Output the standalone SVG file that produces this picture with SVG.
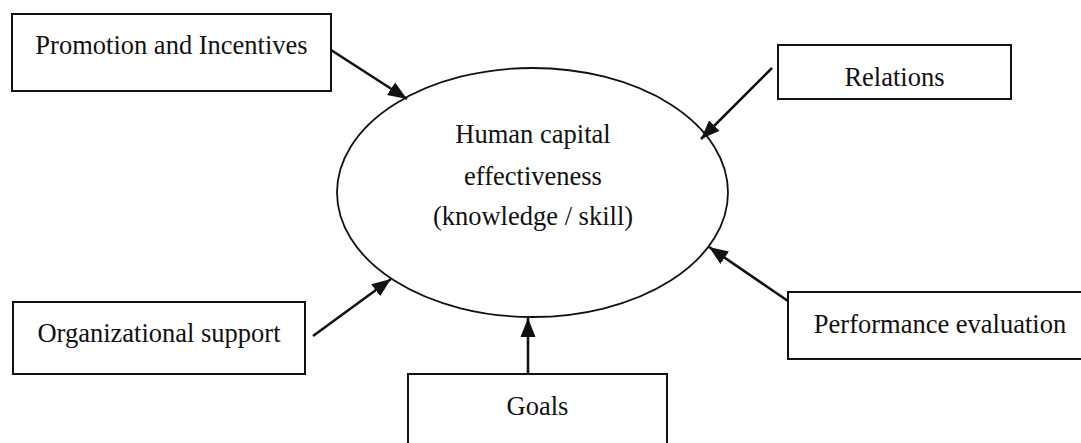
<svg xmlns="http://www.w3.org/2000/svg" width="1081" height="443" viewBox="0 0 1081 443">
  <style>
    .box { fill: #ffffff; stroke: #111111; stroke-width: 2; }
    .hub { fill: #ffffff; stroke: #111111; stroke-width: 1.8; }
    .label { font-family: "Liberation Serif", "Times New Roman", serif; font-size: 26.5px; fill: #111111; text-anchor: middle; }
    .link { stroke: #111111; stroke-width: 2.6; fill: none; marker-end: url(#head); }
  </style>
  <defs>
    <marker id="head" markerUnits="userSpaceOnUse" markerWidth="20" markerHeight="16" refX="19" refY="8" orient="auto">
      <path d="M0,0.5 L19,8 L0,15.5 Z" fill="#111111"/>
    </marker>
  </defs>
  <rect width="1081" height="443" fill="#ffffff"/>

  <g id="node-hub">
    <ellipse class="hub" cx="532.5" cy="192.5" rx="195.5" ry="124.5"/>
    <text class="label" x="533" y="143">Human capital</text>
    <text class="label" x="533" y="185">effectiveness</text>
    <text class="label" x="533" y="225">(knowledge / skill)</text>
  </g>

  <g id="node-promotion">
    <rect class="box" x="12" y="14" width="319" height="77"/>
    <text class="label" x="171.5" y="54">Promotion and Incentives</text>
  </g>

  <g id="node-relations">
    <rect class="box" x="778" y="45" width="233" height="54"/>
    <text class="label" x="894.5" y="86">Relations</text>
  </g>

  <g id="node-support">
    <rect class="box" x="13" y="302" width="292" height="72"/>
    <text class="label" x="159" y="342">Organizational support</text>
  </g>

  <g id="node-goals">
    <rect class="box" x="408" y="374" width="259" height="80"/>
    <text class="label" x="537.5" y="415">Goals</text>
  </g>

  <g id="node-performance">
    <rect class="box" x="788" y="292" width="300" height="67"/>
    <text class="label" x="940" y="333">Performance evaluation</text>
  </g>

  <g id="connectors">
    <line class="link" x1="331" y1="50" x2="407" y2="99"/>
    <line class="link" x1="772" y1="68" x2="701" y2="139"/>
    <line class="link" x1="313" y1="336" x2="391" y2="279"/>
    <line class="link" x1="528" y1="374" x2="528" y2="318"/>
    <line class="link" x1="788" y1="301" x2="709" y2="247"/>
  </g>
</svg>
